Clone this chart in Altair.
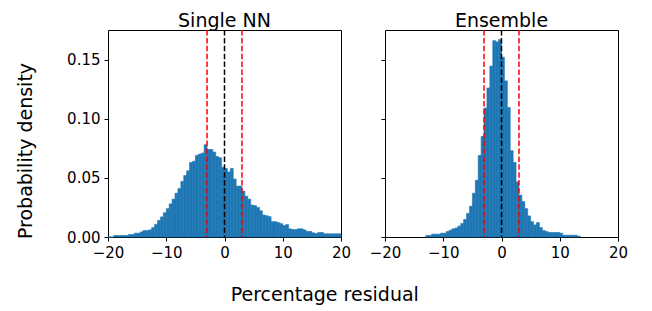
import altair as alt
import pandas as pd

BIN_WIDTH = 0.5

# Single NN histogram: bins of 0.5 starting at -20
single_start = -20.0
single_density = [
    0.0, 0.0, 0.0013, 0.0013, 0.0013, 0.0013, 0.0013, 0.0021, 0.0021, 0.0032,
    0.0032, 0.0043, 0.0055, 0.0055, 0.006, 0.008, 0.0107, 0.014, 0.017, 0.0205,
    0.024, 0.028, 0.032, 0.037, 0.041, 0.047, 0.052, 0.056, 0.063, 0.064,
    0.069, 0.070, 0.071, 0.078, 0.074, 0.074, 0.0717, 0.068, 0.067, 0.059,
    0.058, 0.055, 0.058, 0.049, 0.043, 0.043, 0.0388, 0.0345, 0.032, 0.027,
    0.0265, 0.025, 0.0222, 0.0186, 0.018, 0.0172, 0.013, 0.013, 0.0121, 0.0113,
    0.0097, 0.0105, 0.0069, 0.0063, 0.0063, 0.0069, 0.0069, 0.006, 0.0047, 0.0047,
    0.0035, 0.003, 0.0038, 0.0038, 0.0027, 0.0027, 0.0027, 0.0027, 0.0027, 0.0027,
]

# Ensemble histogram: bins of 0.5 starting at -13
ensemble_start = -13.0
ensemble_density = [
    0.0013, 0.0013, 0.0024, 0.0024, 0.0024, 0.0032, 0.0032, 0.0046, 0.0057, 0.0069,
    0.0076, 0.0092, 0.0115, 0.0149, 0.020, 0.026, 0.037, 0.048, 0.069, 0.085,
    0.109, 0.126, 0.1445, 0.166, 0.165, 0.167, 0.152, 0.132, 0.1095, 0.073,
    0.063, 0.0466, 0.0354, 0.030, 0.024, 0.0178, 0.013, 0.0102, 0.0122, 0.008,
    0.0055, 0.0046, 0.0038, 0.0038, 0.0038, 0.0038, 0.0032, 0.0015, 0.0015, 0.0015,
    0.0015, 0.0015, 0.0008,
]

ref_lines = [-3, 0, 3]
ref_colors = ["red", "black", "red"]
x_ticks = [-20, -10, 0, 10, 20]
y_ticks = [0.0, 0.05, 0.10, 0.15]
panel_titles = ["Single NN", "Ensemble"]


def hist_df(start, dens):
    lo = [start + i * BIN_WIDTH for i in range(len(dens))]
    hi = [v + BIN_WIDTH for v in lo]
    return pd.DataFrame({"lo": lo, "hi": hi, "density": dens})


lines_df = pd.DataFrame({"x": ref_lines, "color": ref_colors})


def panel(df, title, first):
    xscale = alt.Scale(domain=[-20, 20], nice=False, zero=False)
    yscale = alt.Scale(domain=[0, 0.175], nice=False, zero=True)
    xaxis = alt.Axis(values=x_ticks, format="d", labelFlush=False, title=None,
                     domain=False, grid=False, labelPadding=4)
    if first:
        yaxis = alt.Axis(values=y_ticks, format=".2f", title="Probability density",
                         domain=False, grid=False, titleX=-77, titleY=120.5,
                         titleAngle=270, titleBaseline="alphabetic", titleAlign="center",
                         labelPadding=4)
    else:
        yaxis = alt.Axis(values=y_ticks, labels=False, title=None, domain=False, grid=False)
    bars = alt.Chart(df).mark_rect(color="#1f77b4", stroke="#1f77b4", strokeWidth=0.6).encode(
        x=alt.X("lo:Q", scale=xscale, axis=xaxis),
        x2="hi",
        y=alt.Y("density:Q", scale=yscale, axis=yaxis),
        y2=alt.datum(0),
    )
    rules = alt.Chart(lines_df).mark_rule(strokeDash=[5.5, 2.4], strokeWidth=1.5).encode(
        x=alt.X("x:Q", scale=xscale),
        color=alt.Color("color:N", scale=None),
    )
    return alt.layer(bars, rules).properties(
        width=233, height=207,
        title=alt.TitleParams(title, frame="group", anchor="middle", offset=-2),
    )


left = panel(hist_df(single_start, single_density), panel_titles[0], True)
right = panel(hist_df(ensemble_start, ensemble_density), panel_titles[1], False)

chart = alt.hconcat(left, right, spacing=44, bounds="flush").properties(
    title=alt.TitleParams("Percentage residual", orient="bottom", anchor="middle",
                          offset=25, dx=3),
    padding={"left": 7, "top": 3, "right": 5, "bottom": 0},
).configure_view(
    stroke="black", strokeWidth=1
).configure_axis(
    labelFont="DejaVu Sans", labelFontSize=15, labelColor="black",
    tickColor="black", tickWidth=1, tickSize=4,
    titleFont="DejaVu Sans", titleFontSize=19, titleFontWeight="normal", titleColor="black",
).configure_title(
    font="DejaVu Sans", fontSize=19, fontWeight="normal", color="black",
)

chart.save("out.html", embed_options={"renderer": "svg", "actions": False})
